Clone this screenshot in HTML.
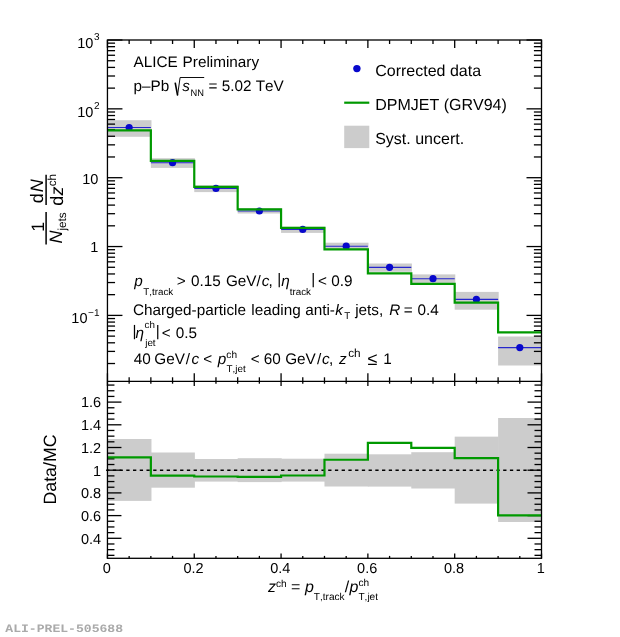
<!DOCTYPE html>
<html><head><meta charset="utf-8"><title>ALI-PREL-505688</title>
<style>html,body{margin:0;padding:0;background:#fff}svg{display:block}text{font-family:"Liberation Sans",sans-serif;white-space:pre;font-kerning:none;text-rendering:geometricPrecision}</style>
</head><body>
<svg width="620" height="637" viewBox="0 0 620 637">
<rect width="620" height="637" fill="#fff"/>
<g fill="#cccccc">
<rect x="107.45" y="120.20" width="44.01" height="16.60"/>
<rect x="150.86" y="158.20" width="44.01" height="9.70"/>
<rect x="194.26" y="185.30" width="44.01" height="6.80"/>
<rect x="237.67" y="208.20" width="44.01" height="5.30"/>
<rect x="281.07" y="226.80" width="44.01" height="6.10"/>
<rect x="324.48" y="242.70" width="44.01" height="7.30"/>
<rect x="367.88" y="263.50" width="44.01" height="8.30"/>
<rect x="411.28" y="274.40" width="44.01" height="8.50"/>
<rect x="454.69" y="291.90" width="44.01" height="17.80"/>
<rect x="498.10" y="336.50" width="43.41" height="29.00"/>
<rect x="107.45" y="439.00" width="44.01" height="61.90"/>
<rect x="150.86" y="452.50" width="44.01" height="35.20"/>
<rect x="194.26" y="459.00" width="44.01" height="22.60"/>
<rect x="237.67" y="458.20" width="44.01" height="23.90"/>
<rect x="281.07" y="458.70" width="44.01" height="22.90"/>
<rect x="324.48" y="453.70" width="44.01" height="32.80"/>
<rect x="367.88" y="454.30" width="44.01" height="32.30"/>
<rect x="411.28" y="452.20" width="44.01" height="36.30"/>
<rect x="454.69" y="436.65" width="44.01" height="66.95"/>
<rect x="498.10" y="418.00" width="43.41" height="104.00"/>
</g>
<line x1="106.1" y1="470.2" x2="541.50" y2="470.2" stroke="#000" stroke-width="1.4" stroke-dasharray="3.3 3.43"/>
<g stroke="#2626cc" stroke-width="1.1" fill="none">
<line x1="107.45" y1="127.50" x2="150.86" y2="127.50"/>
<line x1="150.86" y1="162.70" x2="194.26" y2="162.70"/>
<line x1="194.26" y1="188.40" x2="237.67" y2="188.40"/>
<line x1="237.67" y1="211.00" x2="281.07" y2="211.00"/>
<line x1="281.07" y1="229.40" x2="324.48" y2="229.40"/>
<line x1="324.48" y1="246.20" x2="367.88" y2="246.20"/>
<line x1="367.88" y1="267.35" x2="411.28" y2="267.35"/>
<line x1="411.28" y1="278.70" x2="454.69" y2="278.70"/>
<line x1="454.69" y1="299.40" x2="498.10" y2="299.40"/>
<line x1="498.10" y1="347.60" x2="541.50" y2="347.60"/>
</g>
<g fill="#0808cc">
<circle cx="129.15" cy="127.50" r="3.6"/>
<circle cx="172.56" cy="162.70" r="3.6"/>
<circle cx="215.96" cy="188.40" r="3.6"/>
<circle cx="259.37" cy="211.00" r="3.6"/>
<circle cx="302.77" cy="229.40" r="3.6"/>
<circle cx="346.18" cy="246.20" r="3.6"/>
<circle cx="389.58" cy="267.35" r="3.6"/>
<circle cx="432.99" cy="278.70" r="3.6"/>
<circle cx="476.39" cy="299.40" r="3.6"/>
<circle cx="519.80" cy="347.60" r="3.6"/>
</g>
<g stroke="#000" stroke-width="1.3" fill="none">
<line x1="107.45" y1="40.0" x2="107.45" y2="48.0"/>
<line x1="107.45" y1="373.3" x2="107.45" y2="386.1"/>
<line x1="107.45" y1="558.3" x2="107.45" y2="553.5"/>
<line x1="129.15" y1="40.0" x2="129.15" y2="44.0"/>
<line x1="129.15" y1="377.3" x2="129.15" y2="383.7"/>
<line x1="129.15" y1="558.3" x2="129.15" y2="555.9"/>
<line x1="150.86" y1="40.0" x2="150.86" y2="44.0"/>
<line x1="150.86" y1="377.3" x2="150.86" y2="383.7"/>
<line x1="150.86" y1="558.3" x2="150.86" y2="555.9"/>
<line x1="172.56" y1="40.0" x2="172.56" y2="44.0"/>
<line x1="172.56" y1="377.3" x2="172.56" y2="383.7"/>
<line x1="172.56" y1="558.3" x2="172.56" y2="555.9"/>
<line x1="194.26" y1="40.0" x2="194.26" y2="48.0"/>
<line x1="194.26" y1="373.3" x2="194.26" y2="386.1"/>
<line x1="194.26" y1="558.3" x2="194.26" y2="553.5"/>
<line x1="215.96" y1="40.0" x2="215.96" y2="44.0"/>
<line x1="215.96" y1="377.3" x2="215.96" y2="383.7"/>
<line x1="215.96" y1="558.3" x2="215.96" y2="555.9"/>
<line x1="237.67" y1="40.0" x2="237.67" y2="44.0"/>
<line x1="237.67" y1="377.3" x2="237.67" y2="383.7"/>
<line x1="237.67" y1="558.3" x2="237.67" y2="555.9"/>
<line x1="259.37" y1="40.0" x2="259.37" y2="44.0"/>
<line x1="259.37" y1="377.3" x2="259.37" y2="383.7"/>
<line x1="259.37" y1="558.3" x2="259.37" y2="555.9"/>
<line x1="281.07" y1="40.0" x2="281.07" y2="48.0"/>
<line x1="281.07" y1="373.3" x2="281.07" y2="386.1"/>
<line x1="281.07" y1="558.3" x2="281.07" y2="553.5"/>
<line x1="302.77" y1="40.0" x2="302.77" y2="44.0"/>
<line x1="302.77" y1="377.3" x2="302.77" y2="383.7"/>
<line x1="302.77" y1="558.3" x2="302.77" y2="555.9"/>
<line x1="324.48" y1="40.0" x2="324.48" y2="44.0"/>
<line x1="324.48" y1="377.3" x2="324.48" y2="383.7"/>
<line x1="324.48" y1="558.3" x2="324.48" y2="555.9"/>
<line x1="346.18" y1="40.0" x2="346.18" y2="44.0"/>
<line x1="346.18" y1="377.3" x2="346.18" y2="383.7"/>
<line x1="346.18" y1="558.3" x2="346.18" y2="555.9"/>
<line x1="367.88" y1="40.0" x2="367.88" y2="48.0"/>
<line x1="367.88" y1="373.3" x2="367.88" y2="386.1"/>
<line x1="367.88" y1="558.3" x2="367.88" y2="553.5"/>
<line x1="389.58" y1="40.0" x2="389.58" y2="44.0"/>
<line x1="389.58" y1="377.3" x2="389.58" y2="383.7"/>
<line x1="389.58" y1="558.3" x2="389.58" y2="555.9"/>
<line x1="411.28" y1="40.0" x2="411.28" y2="44.0"/>
<line x1="411.28" y1="377.3" x2="411.28" y2="383.7"/>
<line x1="411.28" y1="558.3" x2="411.28" y2="555.9"/>
<line x1="432.99" y1="40.0" x2="432.99" y2="44.0"/>
<line x1="432.99" y1="377.3" x2="432.99" y2="383.7"/>
<line x1="432.99" y1="558.3" x2="432.99" y2="555.9"/>
<line x1="454.69" y1="40.0" x2="454.69" y2="48.0"/>
<line x1="454.69" y1="373.3" x2="454.69" y2="386.1"/>
<line x1="454.69" y1="558.3" x2="454.69" y2="553.5"/>
<line x1="476.39" y1="40.0" x2="476.39" y2="44.0"/>
<line x1="476.39" y1="377.3" x2="476.39" y2="383.7"/>
<line x1="476.39" y1="558.3" x2="476.39" y2="555.9"/>
<line x1="498.10" y1="40.0" x2="498.10" y2="44.0"/>
<line x1="498.10" y1="377.3" x2="498.10" y2="383.7"/>
<line x1="498.10" y1="558.3" x2="498.10" y2="555.9"/>
<line x1="519.80" y1="40.0" x2="519.80" y2="44.0"/>
<line x1="519.80" y1="377.3" x2="519.80" y2="383.7"/>
<line x1="519.80" y1="558.3" x2="519.80" y2="555.9"/>
<line x1="541.50" y1="40.0" x2="541.50" y2="48.0"/>
<line x1="541.50" y1="373.3" x2="541.50" y2="386.1"/>
<line x1="541.50" y1="558.3" x2="541.50" y2="553.5"/>
<line x1="107.45" y1="363.52" x2="115.05" y2="363.52"/>
<line x1="541.5" y1="363.52" x2="533.9" y2="363.52"/>
<line x1="107.45" y1="351.40" x2="115.05" y2="351.40"/>
<line x1="541.5" y1="351.40" x2="533.9" y2="351.40"/>
<line x1="107.45" y1="342.80" x2="115.05" y2="342.80"/>
<line x1="541.5" y1="342.80" x2="533.9" y2="342.80"/>
<line x1="107.45" y1="336.13" x2="115.05" y2="336.13"/>
<line x1="541.5" y1="336.13" x2="533.9" y2="336.13"/>
<line x1="107.45" y1="330.67" x2="115.05" y2="330.67"/>
<line x1="541.5" y1="330.67" x2="533.9" y2="330.67"/>
<line x1="107.45" y1="326.06" x2="115.05" y2="326.06"/>
<line x1="541.5" y1="326.06" x2="533.9" y2="326.06"/>
<line x1="107.45" y1="322.07" x2="115.05" y2="322.07"/>
<line x1="541.5" y1="322.07" x2="533.9" y2="322.07"/>
<line x1="107.45" y1="318.55" x2="115.05" y2="318.55"/>
<line x1="541.5" y1="318.55" x2="533.9" y2="318.55"/>
<line x1="107.45" y1="315.40" x2="122.45" y2="315.40"/>
<line x1="541.5" y1="315.40" x2="526.5" y2="315.40"/>
<line x1="107.45" y1="294.67" x2="115.05" y2="294.67"/>
<line x1="541.5" y1="294.67" x2="533.9" y2="294.67"/>
<line x1="107.45" y1="282.55" x2="115.05" y2="282.55"/>
<line x1="541.5" y1="282.55" x2="533.9" y2="282.55"/>
<line x1="107.45" y1="273.95" x2="115.05" y2="273.95"/>
<line x1="541.5" y1="273.95" x2="533.9" y2="273.95"/>
<line x1="107.45" y1="267.28" x2="115.05" y2="267.28"/>
<line x1="541.5" y1="267.28" x2="533.9" y2="267.28"/>
<line x1="107.45" y1="261.82" x2="115.05" y2="261.82"/>
<line x1="541.5" y1="261.82" x2="533.9" y2="261.82"/>
<line x1="107.45" y1="257.21" x2="115.05" y2="257.21"/>
<line x1="541.5" y1="257.21" x2="533.9" y2="257.21"/>
<line x1="107.45" y1="253.22" x2="115.05" y2="253.22"/>
<line x1="541.5" y1="253.22" x2="533.9" y2="253.22"/>
<line x1="107.45" y1="249.70" x2="115.05" y2="249.70"/>
<line x1="541.5" y1="249.70" x2="533.9" y2="249.70"/>
<line x1="107.45" y1="246.55" x2="122.45" y2="246.55"/>
<line x1="541.5" y1="246.55" x2="526.5" y2="246.55"/>
<line x1="107.45" y1="225.82" x2="115.05" y2="225.82"/>
<line x1="541.5" y1="225.82" x2="533.9" y2="225.82"/>
<line x1="107.45" y1="213.70" x2="115.05" y2="213.70"/>
<line x1="541.5" y1="213.70" x2="533.9" y2="213.70"/>
<line x1="107.45" y1="205.10" x2="115.05" y2="205.10"/>
<line x1="541.5" y1="205.10" x2="533.9" y2="205.10"/>
<line x1="107.45" y1="198.43" x2="115.05" y2="198.43"/>
<line x1="541.5" y1="198.43" x2="533.9" y2="198.43"/>
<line x1="107.45" y1="192.97" x2="115.05" y2="192.97"/>
<line x1="541.5" y1="192.97" x2="533.9" y2="192.97"/>
<line x1="107.45" y1="188.36" x2="115.05" y2="188.36"/>
<line x1="541.5" y1="188.36" x2="533.9" y2="188.36"/>
<line x1="107.45" y1="184.37" x2="115.05" y2="184.37"/>
<line x1="541.5" y1="184.37" x2="533.9" y2="184.37"/>
<line x1="107.45" y1="180.85" x2="115.05" y2="180.85"/>
<line x1="541.5" y1="180.85" x2="533.9" y2="180.85"/>
<line x1="107.45" y1="177.70" x2="122.45" y2="177.70"/>
<line x1="541.5" y1="177.70" x2="526.5" y2="177.70"/>
<line x1="107.45" y1="156.97" x2="115.05" y2="156.97"/>
<line x1="541.5" y1="156.97" x2="533.9" y2="156.97"/>
<line x1="107.45" y1="144.85" x2="115.05" y2="144.85"/>
<line x1="541.5" y1="144.85" x2="533.9" y2="144.85"/>
<line x1="107.45" y1="136.25" x2="115.05" y2="136.25"/>
<line x1="541.5" y1="136.25" x2="533.9" y2="136.25"/>
<line x1="107.45" y1="129.58" x2="115.05" y2="129.58"/>
<line x1="541.5" y1="129.58" x2="533.9" y2="129.58"/>
<line x1="107.45" y1="124.12" x2="115.05" y2="124.12"/>
<line x1="541.5" y1="124.12" x2="533.9" y2="124.12"/>
<line x1="107.45" y1="119.51" x2="115.05" y2="119.51"/>
<line x1="541.5" y1="119.51" x2="533.9" y2="119.51"/>
<line x1="107.45" y1="115.52" x2="115.05" y2="115.52"/>
<line x1="541.5" y1="115.52" x2="533.9" y2="115.52"/>
<line x1="107.45" y1="112.00" x2="115.05" y2="112.00"/>
<line x1="541.5" y1="112.00" x2="533.9" y2="112.00"/>
<line x1="107.45" y1="108.85" x2="122.45" y2="108.85"/>
<line x1="541.5" y1="108.85" x2="526.5" y2="108.85"/>
<line x1="107.45" y1="88.12" x2="115.05" y2="88.12"/>
<line x1="541.5" y1="88.12" x2="533.9" y2="88.12"/>
<line x1="107.45" y1="76.00" x2="115.05" y2="76.00"/>
<line x1="541.5" y1="76.00" x2="533.9" y2="76.00"/>
<line x1="107.45" y1="67.40" x2="115.05" y2="67.40"/>
<line x1="541.5" y1="67.40" x2="533.9" y2="67.40"/>
<line x1="107.45" y1="60.73" x2="115.05" y2="60.73"/>
<line x1="541.5" y1="60.73" x2="533.9" y2="60.73"/>
<line x1="107.45" y1="55.27" x2="115.05" y2="55.27"/>
<line x1="541.5" y1="55.27" x2="533.9" y2="55.27"/>
<line x1="107.45" y1="50.66" x2="115.05" y2="50.66"/>
<line x1="541.5" y1="50.66" x2="533.9" y2="50.66"/>
<line x1="107.45" y1="46.67" x2="115.05" y2="46.67"/>
<line x1="541.5" y1="46.67" x2="533.9" y2="46.67"/>
<line x1="107.45" y1="43.15" x2="115.05" y2="43.15"/>
<line x1="541.5" y1="43.15" x2="533.9" y2="43.15"/>
<line x1="107.45" y1="40.00" x2="122.45" y2="40.00"/>
<line x1="541.5" y1="40.00" x2="526.5" y2="40.00"/>
<line x1="107.45" y1="555.33" x2="114.45" y2="555.33"/>
<line x1="541.5" y1="555.33" x2="534.5" y2="555.33"/>
<line x1="107.45" y1="549.65" x2="114.45" y2="549.65"/>
<line x1="541.5" y1="549.65" x2="534.5" y2="549.65"/>
<line x1="107.45" y1="543.98" x2="114.45" y2="543.98"/>
<line x1="541.5" y1="543.98" x2="534.5" y2="543.98"/>
<line x1="107.45" y1="538.30" x2="121.45" y2="538.30"/>
<line x1="541.5" y1="538.30" x2="527.5" y2="538.30"/>
<line x1="107.45" y1="532.62" x2="114.45" y2="532.62"/>
<line x1="541.5" y1="532.62" x2="534.5" y2="532.62"/>
<line x1="107.45" y1="526.95" x2="114.45" y2="526.95"/>
<line x1="541.5" y1="526.95" x2="534.5" y2="526.95"/>
<line x1="107.45" y1="521.27" x2="114.45" y2="521.27"/>
<line x1="541.5" y1="521.27" x2="534.5" y2="521.27"/>
<line x1="107.45" y1="515.60" x2="121.45" y2="515.60"/>
<line x1="541.5" y1="515.60" x2="527.5" y2="515.60"/>
<line x1="107.45" y1="509.92" x2="114.45" y2="509.92"/>
<line x1="541.5" y1="509.92" x2="534.5" y2="509.92"/>
<line x1="107.45" y1="504.25" x2="114.45" y2="504.25"/>
<line x1="541.5" y1="504.25" x2="534.5" y2="504.25"/>
<line x1="107.45" y1="498.57" x2="114.45" y2="498.57"/>
<line x1="541.5" y1="498.57" x2="534.5" y2="498.57"/>
<line x1="107.45" y1="492.90" x2="121.45" y2="492.90"/>
<line x1="541.5" y1="492.90" x2="527.5" y2="492.90"/>
<line x1="107.45" y1="487.22" x2="114.45" y2="487.22"/>
<line x1="541.5" y1="487.22" x2="534.5" y2="487.22"/>
<line x1="107.45" y1="481.55" x2="114.45" y2="481.55"/>
<line x1="541.5" y1="481.55" x2="534.5" y2="481.55"/>
<line x1="107.45" y1="475.88" x2="114.45" y2="475.88"/>
<line x1="541.5" y1="475.88" x2="534.5" y2="475.88"/>
<line x1="107.45" y1="470.20" x2="121.45" y2="470.20"/>
<line x1="541.5" y1="470.20" x2="527.5" y2="470.20"/>
<line x1="107.45" y1="464.52" x2="114.45" y2="464.52"/>
<line x1="541.5" y1="464.52" x2="534.5" y2="464.52"/>
<line x1="107.45" y1="458.85" x2="114.45" y2="458.85"/>
<line x1="541.5" y1="458.85" x2="534.5" y2="458.85"/>
<line x1="107.45" y1="453.17" x2="114.45" y2="453.17"/>
<line x1="541.5" y1="453.17" x2="534.5" y2="453.17"/>
<line x1="107.45" y1="447.50" x2="121.45" y2="447.50"/>
<line x1="541.5" y1="447.50" x2="527.5" y2="447.50"/>
<line x1="107.45" y1="441.82" x2="114.45" y2="441.82"/>
<line x1="541.5" y1="441.82" x2="534.5" y2="441.82"/>
<line x1="107.45" y1="436.15" x2="114.45" y2="436.15"/>
<line x1="541.5" y1="436.15" x2="534.5" y2="436.15"/>
<line x1="107.45" y1="430.47" x2="114.45" y2="430.47"/>
<line x1="541.5" y1="430.47" x2="534.5" y2="430.47"/>
<line x1="107.45" y1="424.80" x2="121.45" y2="424.80"/>
<line x1="541.5" y1="424.80" x2="527.5" y2="424.80"/>
<line x1="107.45" y1="419.12" x2="114.45" y2="419.12"/>
<line x1="541.5" y1="419.12" x2="534.5" y2="419.12"/>
<line x1="107.45" y1="413.45" x2="114.45" y2="413.45"/>
<line x1="541.5" y1="413.45" x2="534.5" y2="413.45"/>
<line x1="107.45" y1="407.77" x2="114.45" y2="407.77"/>
<line x1="541.5" y1="407.77" x2="534.5" y2="407.77"/>
<line x1="107.45" y1="402.10" x2="121.45" y2="402.10"/>
<line x1="541.5" y1="402.10" x2="527.5" y2="402.10"/>
<line x1="107.45" y1="396.42" x2="114.45" y2="396.42"/>
<line x1="541.5" y1="396.42" x2="534.5" y2="396.42"/>
<line x1="107.45" y1="390.75" x2="114.45" y2="390.75"/>
<line x1="541.5" y1="390.75" x2="534.5" y2="390.75"/>
<line x1="107.45" y1="385.07" x2="114.45" y2="385.07"/>
<line x1="541.5" y1="385.07" x2="534.5" y2="385.07"/>
</g>
<path d="M107.45,130.30V130.30H150.86V160.90H194.26V186.85H237.67V209.40H281.07V227.80H324.48V249.40H367.88V273.45H411.28V283.90H454.69V302.60H498.10V332.40H541.50" fill="none" stroke="#009900" stroke-width="2.2" stroke-linejoin="miter"/>
<path d="M107.45,457.40V457.40H150.86V475.70H194.26V476.50H237.67V476.90H281.07V475.50H324.48V459.75H367.88V442.90H411.28V447.90H454.69V458.15H498.10V515.30H541.50" fill="none" stroke="#009900" stroke-width="2.2" stroke-linejoin="miter"/>
<g stroke="#000" stroke-width="1.3" fill="none">
<rect x="107.45" y="40.0" width="434.05" height="518.3"/>
<line x1="107.45" y1="381.3" x2="541.5" y2="381.3"/>
</g>
<text x="93.34" y="47.80" font-size="14.50" text-anchor="end">10</text>
<text x="93.94" y="40.10" font-size="10.00">3</text>
<text x="93.34" y="116.65" font-size="14.50" text-anchor="end">10</text>
<text x="93.94" y="108.95" font-size="10.00">2</text>
<text x="98.30" y="183.50" font-size="14.50" text-anchor="end">10</text>
<text x="98.30" y="252.35" font-size="14.50" text-anchor="end">1</text>
<text x="87.50" y="323.20" font-size="14.50" text-anchor="end">10</text>
<text x="88.10" y="315.50" font-size="10.00">−1</text>
<text x="101.20" y="407.40" font-size="14.50" text-anchor="end">1.6</text>
<text x="101.20" y="430.10" font-size="14.50" text-anchor="end">1.4</text>
<text x="101.20" y="452.80" font-size="14.50" text-anchor="end">1.2</text>
<text x="101.20" y="475.50" font-size="14.50" text-anchor="end">1</text>
<text x="101.20" y="498.20" font-size="14.50" text-anchor="end">0.8</text>
<text x="101.20" y="520.90" font-size="14.50" text-anchor="end">0.6</text>
<text x="101.20" y="543.60" font-size="14.50" text-anchor="end">0.4</text>
<text x="106.75" y="573.20" font-size="14.50" text-anchor="middle">0</text>
<text x="193.56" y="573.20" font-size="14.50" text-anchor="middle">0.2</text>
<text x="280.37" y="573.20" font-size="14.50" text-anchor="middle">0.4</text>
<text x="367.18" y="573.20" font-size="14.50" text-anchor="middle">0.6</text>
<text x="453.99" y="573.20" font-size="14.50" text-anchor="middle">0.8</text>
<text x="540.80" y="573.20" font-size="14.50" text-anchor="middle">1</text>
<text x="268.00" y="592.00" font-size="16.00" font-style="italic">z</text>
<text x="276.00" y="586.80" font-size="10.10">ch</text>
<text x="286.67" y="592.00" font-size="16.00"> = </text>
<text x="304.90" y="592.00" font-size="16.00" font-style="italic">p</text>
<text x="313.80" y="600.40" font-size="10.10">T,track</text>
<text x="344.66" y="592.00" font-size="16.00">/</text>
<text x="349.51" y="592.00" font-size="16.00" font-style="italic">p</text>
<text x="358.41" y="586.40" font-size="10.10">ch</text>
<text x="358.41" y="600.40" font-size="10.10">T,jet</text>
<text transform="translate(56.2,469.5) rotate(-90)" text-anchor="middle" font-size="17.8">Data/MC</text>
<g transform="rotate(-90)">
<line x1="-244.5" y1="46.1" x2="-212.1" y2="46.1" stroke="#000" stroke-width="1.5"/>
<text x="-226.80" y="44.00" font-size="18.00" text-anchor="middle">1</text>
<text x="-243.60" y="61.70" font-size="18.00" font-style="italic">N</text>
<text x="-230.60" y="66.40" font-size="11.70">jets</text>
<line x1="-205.1" y1="46.1" x2="-174.7" y2="46.1" stroke="#000" stroke-width="1.5"/>
<text x="-203.30" y="43.40" font-size="18.00">d</text>
<text x="-192.30" y="43.40" font-size="18.00" font-style="italic">N</text>
<text x="-205.80" y="63.30" font-size="18.00">d</text>
<text x="-195.50" y="63.30" font-size="18.00" font-style="italic">z</text>
<text x="-186.30" y="56.00" font-size="11.70">ch</text>
</g>
<text x="133.60" y="66.80" font-size="15.30">ALICE</text>
<text x="182.60" y="66.80" font-size="15.30">Preliminary</text>
<text x="133.60" y="91.00" font-size="15.30">p–Pb </text>
<text x="182.18" y="91.00" font-size="15.30" font-style="italic">s</text>
<text x="190.43" y="95.70" font-size="9.30">NN</text>
<text x="204.27" y="91.00" font-size="15.30"> = 5.02 TeV</text>
<path d="M175.2,82.6 L177.6,95.4" fill="none" stroke="#000" stroke-width="1.6"/>
<path d="M177.5,95.6 L180.1,77.5 L204.2,77.5" fill="none" stroke="#000" stroke-width="0.95" stroke-linejoin="miter"/>
<text x="134.18" y="286.00" font-size="15.30" font-style="italic">p</text>
<text x="143.28" y="294.60" font-size="9.80">T,track</text>
<text x="176.65" y="286.00" font-size="15.30">&gt;</text>
<text x="190.90" y="286.00" font-size="15.30">0.15</text>
<text x="225.93" y="286.00" font-size="15.30">GeV</text>
<text x="256.40" y="286.00" font-size="15.30">/</text>
<text x="261.70" y="286.00" font-size="15.30" font-style="italic">c</text>
<text x="268.53" y="286.00" font-size="15.30">,</text>
<text x="277.28" y="283.80" font-size="15.30">|</text>
<text x="281.25" y="286.00" font-size="15.30" font-style="italic">η</text>
<text x="289.75" y="295.00" font-size="9.80">track</text>
<text x="311.18" y="283.80" font-size="15.30">|</text>
<text x="318.05" y="286.00" font-size="15.30">&lt;</text>
<text x="331.30" y="286.00" font-size="15.30">0.9</text>
<text x="132.92" y="314.70" font-size="15.30">Charged-particle</text>
<text x="251.37" y="314.70" font-size="15.30">leading</text>
<text x="305.15" y="314.70" font-size="15.30">anti-</text>
<text x="335.25" y="314.70" font-size="15.30" font-style="italic">k</text>
<text x="344.28" y="319.10" font-size="9.80">T</text>
<text x="355.17" y="314.70" font-size="15.30">jets,</text>
<text x="389.23" y="314.70" font-size="15.30" font-style="italic">R</text>
<text x="403.65" y="314.70" font-size="15.30">=</text>
<text x="417.50" y="314.70" font-size="15.30">0.4</text>
<text x="132.58" y="335.80" font-size="15.30">|</text>
<text x="135.45" y="338.00" font-size="15.30" font-style="italic">η</text>
<text x="144.58" y="328.20" font-size="9.80">ch</text>
<text x="145.24" y="345.90" font-size="9.80">jet</text>
<text x="155.68" y="335.80" font-size="15.30">|</text>
<text x="161.65" y="338.00" font-size="15.30">&lt;</text>
<text x="175.80" y="338.00" font-size="15.30">0.5</text>
<text x="133.85" y="364.40" font-size="15.30">40</text>
<text x="154.33" y="364.40" font-size="15.30">GeV</text>
<text x="185.70" y="364.40" font-size="15.30">/</text>
<text x="191.40" y="364.40" font-size="15.30" font-style="italic">c</text>
<text x="203.25" y="364.40" font-size="15.30">&lt;</text>
<text x="217.78" y="364.40" font-size="15.30" font-style="italic">p</text>
<text x="226.37" y="357.80" font-size="10.10">ch</text>
<text x="226.58" y="371.80" font-size="9.80">T,jet</text>
<text x="250.85" y="364.40" font-size="15.30">&lt;</text>
<text x="263.72" y="364.40" font-size="15.30">60</text>
<text x="285.13" y="364.40" font-size="15.30">GeV</text>
<text x="316.90" y="364.40" font-size="15.30">/</text>
<text x="322.10" y="364.40" font-size="15.30" font-style="italic">c</text>
<text x="328.93" y="364.40" font-size="15.30">,</text>
<text x="338.99" y="364.40" font-size="15.30" font-style="italic">z</text>
<text x="348.20" y="356.50" font-size="11.80">ch</text>
<text x="367.45" y="364.70" font-size="18.00">≤</text>
<text x="383.33" y="364.40" font-size="15.30">1</text>
<circle cx="356.9" cy="68.6" r="3.7" fill="#0808cc"/>
<text x="375.20" y="76.00" font-size="16.00">Corrected data</text>
<line x1="344.2" y1="102.7" x2="369.3" y2="102.7" stroke="#009900" stroke-width="2.2"/>
<text x="375.20" y="109.80" font-size="16.00">DPMJET (GRV94)</text>
<rect x="344.2" y="125.7" width="25.1" height="22.4" fill="#cccccc"/>
<text x="375.20" y="144.00" font-size="16.00">Syst. uncert.</text>
<text transform="translate(5.3,631.8) scale(1.158,1)" font-size="11.3" font-weight="bold" fill="#aaaaaa" style="font-family:'Liberation Mono',monospace">ALI-PREL-505688</text>
</svg>
</body></html>
